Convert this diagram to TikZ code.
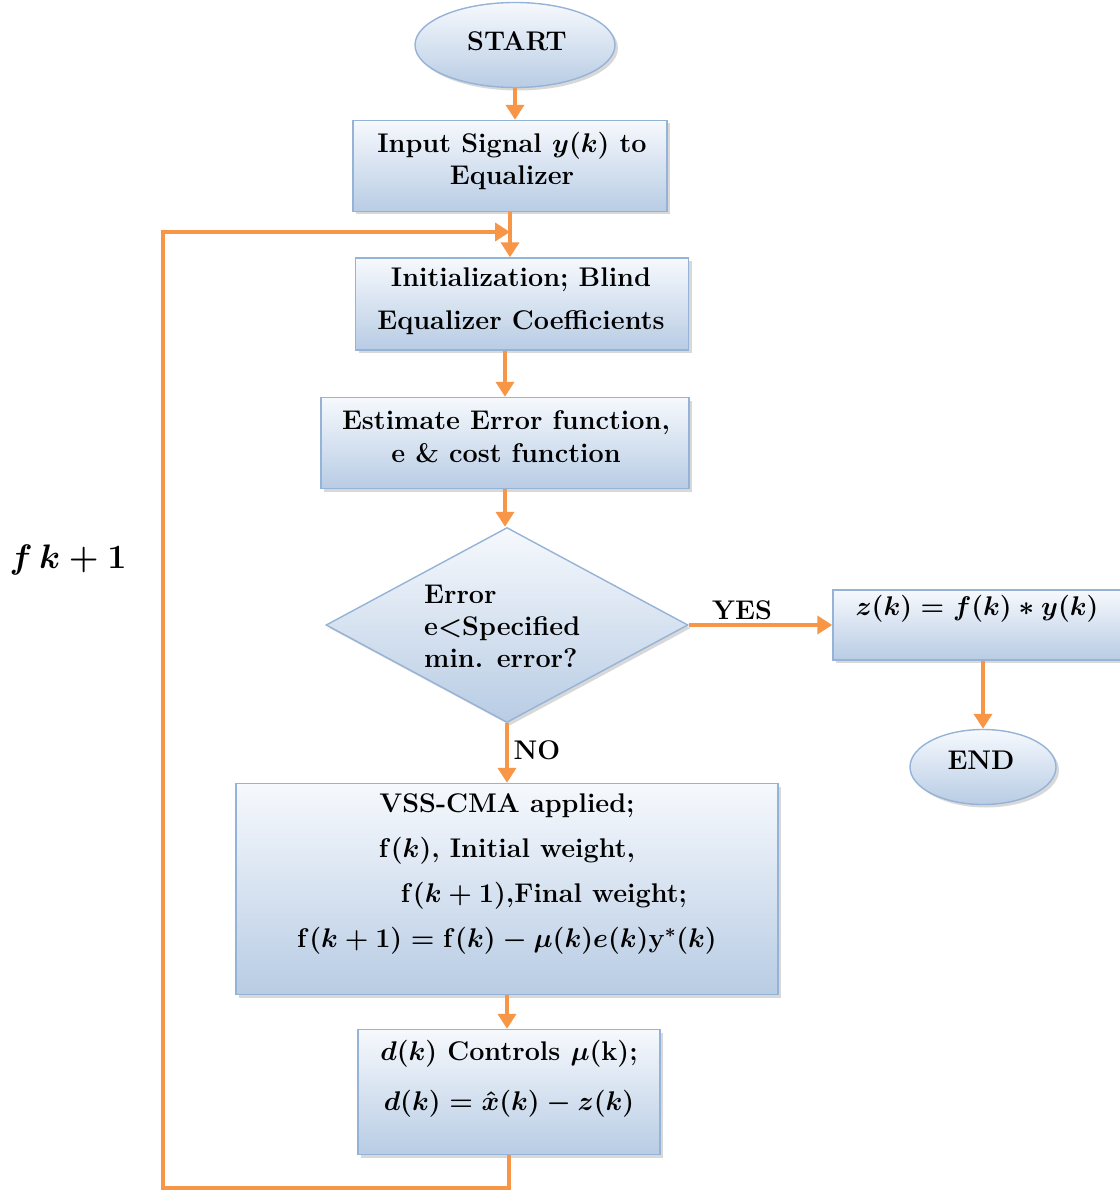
\RequirePackage{fix-cm}
\documentclass[tikz,border=0pt]{standalone}
\usetikzlibrary{shapes.geometric,arrows.meta,shadows}
\definecolor{bblue}{HTML}{B8CCE4}
\definecolor{btop}{HTML}{F6F9FD}
\definecolor{bline}{HTML}{95B3D7}
\definecolor{arrc}{HTML}{F79646}
\begin{document}
\begin{tikzpicture}[x=1pt,y=-1pt,
  fill box/.style={draw=bline, line width=1.4pt, top color=btop, bottom color=bblue,
    drop shadow={shadow xshift=3pt,shadow yshift=-3pt,fill=black!30},
    inner sep=0pt, align=center},
  stepbox/.style={fill box, rectangle},
  term/.style={fill box, ellipse},
  dia/.style={fill box, diamond},
  txt/.style={font=\fontsize{27}{#1}\selectfont\bfseries\boldmath, align=center, inner sep=0pt},
  txt/.default=33,
  arr/.style={draw=arrc, line width=4pt, -{Triangle[length=15pt,width=18pt]}},
  ln/.style={draw=arrc, line width=4pt}
]
\useasboundingbox (0,0) rectangle (1119,1190);

% shapes
\node[term, minimum width=200pt, minimum height=85pt] (start) at (515,45) {};
\node[txt] at (517,41) {START};

\node[stepbox, minimum width=314pt, minimum height=91pt] (input) at (510,166) {};
\node[txt=32] (inputt) at (512,161) {Input Signal $y(k)$ to\\Equalizer};

\node[stepbox, minimum width=333pt, minimum height=92pt] (init) at (522,304) {};
\node[txt=43] (initt) at (521,301) {Initialization; Blind\\Equalizer Coefficients};

\node[stepbox, minimum width=368pt, minimum height=91pt] (est) at (505,443) {};
\node[txt=33] (estt) at (506,437) {Estimate Error function,\\e \& cost function};

\node[dia, minimum width=362pt, minimum height=195pt] (dec) at (507,625) {};
\node[txt=32, align=left, anchor=west] (dect) at (424,626) {Error\\e{\textless}Specified\\min. error?};

\node[stepbox, minimum width=300pt, minimum height=70pt] (zbox) at (983,625) {};
\node[txt] (zt) at (977,609) {$z(k)=f(k)\ast y(k)$};

\node[term, minimum width=146pt, minimum height=75pt] (end) at (983,767) {};
\node[txt] at (981,760) {END};

\node[stepbox, minimum width=542pt, minimum height=211pt] (vss) at (507,889) {};
\node[txt=45, anchor=north] (vsst) at (507,793) {VSS-CMA applied;\\
  $\mathbf{f}(k)$, Initial weight,\\
  \hspace*{74pt}$\mathbf{f}(k+1)$,Final weight;\\
  $\mathbf{f}(k+1)=\mathbf{f}(k)-\mu(k)e(k)\mathbf{y}^{\ast}(k)$};

\node[stepbox, minimum width=302pt, minimum height=125pt] (dbox) at (509,1092) {};
\node[txt=50, anchor=north] (dboxt) at (509,1040) {$d(k)$ Controls $\mu(\mathrm{k})$;\\
  $d(k)=\hat{x}(k)-z(k)$};

% labels
\node[txt] (yes) at (742,610) {YES};
\node[txt] (no) at (537,750) {NO};
\node[font=\fontsize{34}{40}\selectfont\bfseries\boldmath, inner sep=0pt] (fk) at (68,560) {$f\,k+1$};

% connectors
\draw[arr] (start.south) -- (start.south |- input.north);
\draw[arr] (input.south) -- (input.south |- init.north);
\draw[arr] (est.north |- init.south) -- (est.north);
\draw[arr] (est.south) -- (est.south |- dec.north);
\draw[arr] (dec.east) -- (dec.east -| zbox.west);
\draw[arr] (zbox.south) -- (zbox.south |- end.north);
\draw[arr] (dec.south) -- (dec.south |- vss.north);
\draw[arr] (vss.south) -- (vss.south |- dbox.north);

\coordinate (lb) at (163,1188);
\coordinate (lt) at (163,232);
\draw[arr] (dbox.south) |- (lb) -- (lt) -- (lt -| input.south);
\end{tikzpicture}
\end{document}
